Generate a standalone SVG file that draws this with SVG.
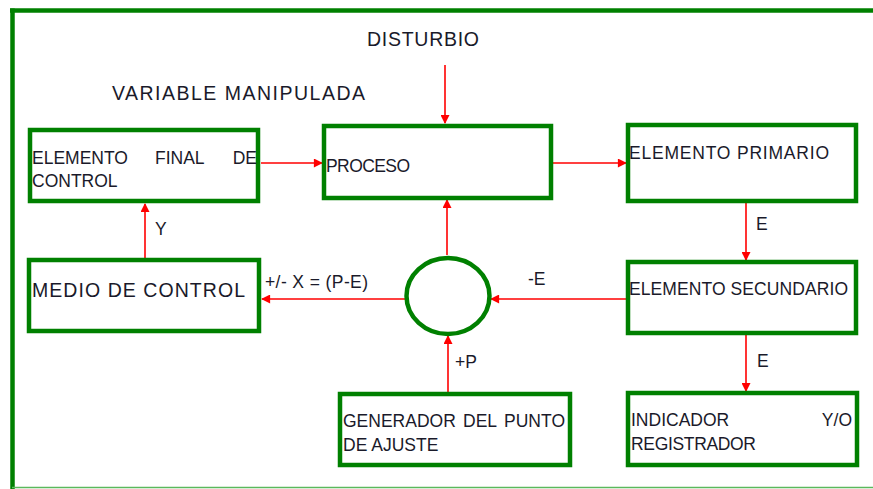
<svg xmlns="http://www.w3.org/2000/svg" width="873" height="489" viewBox="0 0 873 489">
<defs>
<style>
.box{fill:#fff;stroke:#008000;stroke-width:4.5}
.frame{stroke:#008000;fill:none}
.c{stroke:#ff0000;stroke-width:1.6;fill:none;marker-end:url(#ah)}
text{font-family:"Liberation Sans",Arial,sans-serif;fill:#1a1a2a}
.t{font-size:17.5px}
.l{font-size:19.5px}
</style>
<marker id="ah" viewBox="0 0 10 10" refX="9" refY="5" markerWidth="10" markerHeight="9" markerUnits="userSpaceOnUse" orient="auto">
<path d="M0,0 L10,5 L0,10 z" fill="#ff0000"/>
</marker>
</defs>
<rect width="873" height="489" fill="#fff"/>
<g id="frame">
<line class="frame" x1="10" y1="10.5" x2="873" y2="10.5" stroke-width="4.5"/>
<line class="frame" x1="12.5" y1="8.5" x2="12.5" y2="489" stroke-width="4.5"/>
<line x1="12" y1="487.5" x2="873" y2="487.5" stroke="#5cb85c" stroke-width="1.5"/>
</g>
<g id="connectors">
<line class="c" x1="445" y1="65" x2="445" y2="123"/>
<line class="c" x1="261" y1="163" x2="322" y2="163"/>
<line class="c" x1="553" y1="163" x2="626" y2="163"/>
<line class="c" x1="746" y1="203" x2="746" y2="260"/>
<line class="c" x1="626" y1="299" x2="491" y2="299"/>
<line class="c" x1="405" y1="299" x2="262" y2="299"/>
<line class="c" x1="145" y1="259" x2="145" y2="204"/>
<line class="c" x1="447" y1="255" x2="447" y2="200"/>
<line class="c" x1="448" y1="392" x2="448" y2="336"/>
<line class="c" x1="746" y1="335" x2="746" y2="391"/>
</g>
<g id="labels">
<text class="l" x="367" y="46" textLength="112" lengthAdjust="spacing">DISTURBIO</text>
<text class="l" x="112" y="100" textLength="253" lengthAdjust="spacing">VARIABLE MANIPULADA</text>
<text class="t" x="155" y="235">Y</text>
<text class="t" x="265" y="288" textLength="103" lengthAdjust="spacing">+/- X = (P-E)</text>
<text class="t" x="528" y="285">-E</text>
<text class="t" x="455" y="368">+P</text>
<text class="t" x="756" y="230">E</text>
<text class="t" x="757" y="367">E</text>
</g>
<g id="elemento-final">
<rect class="box" x="30" y="130" width="228" height="71"/>
<text class="t" x="32" y="164">ELEMENTO</text>
<text class="t" x="155" y="164">FINAL</text>
<text class="t" x="257" y="164" text-anchor="end">DE</text>
<text class="t" x="32" y="187">CONTROL</text>
</g>
<g id="proceso">
<rect class="box" x="324" y="126" width="227" height="72"/>
<text class="t" x="326" y="172" textLength="84" lengthAdjust="spacing">PROCESO</text>
</g>
<g id="elemento-primario">
<rect class="box" x="628" y="125" width="228" height="76"/>
<text class="t" x="629" y="159" textLength="200" lengthAdjust="spacing">ELEMENTO  PRIMARIO</text>
</g>
<g id="elemento-secundario">
<rect class="box" x="628" y="262" width="228" height="71"/>
<text class="t" x="629" y="295" textLength="219" lengthAdjust="spacing">ELEMENTO SECUNDARIO</text>
</g>
<g id="medio-control">
<rect class="box" x="29" y="260" width="230" height="71"/>
<text class="l" x="32" y="297" textLength="213" lengthAdjust="spacing">MEDIO DE CONTROL</text>
</g>
<g id="comparador">
<ellipse class="box" cx="448" cy="296" rx="41.5" ry="38"/>
</g>
<g id="generador">
<rect class="box" x="340" y="394" width="230" height="71"/>
<text class="t" x="343" y="427">GENERADOR</text>
<text class="t" x="463" y="427">DEL</text>
<text class="t" x="565" y="427" text-anchor="end">PUNTO</text>
<text class="t" x="343" y="451">DE AJUSTE</text>
</g>
<g id="indicador">
<rect class="box" x="628" y="393" width="229" height="72"/>
<text class="t" x="631" y="426">INDICADOR</text>
<text class="t" x="852" y="426" text-anchor="end">Y/O</text>
<text class="t" x="631" y="450" textLength="125" lengthAdjust="spacing">REGISTRADOR</text>
</g>
</svg>
